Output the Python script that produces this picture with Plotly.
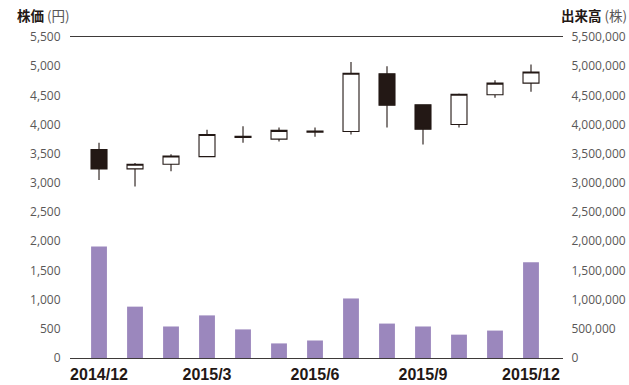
import plotly.graph_objects as go

# Monthly share price (yen) and trading volume (shares)
months = ["2014/12", "2015/1", "2015/2", "2015/3", "2015/4", "2015/5", "2015/6",
          "2015/7", "2015/8", "2015/9", "2015/10", "2015/11", "2015/12"]
price_open = [3570, 3240, 3320, 3450, 3780, 3750, 3870, 3880, 4870, 4340, 4000, 4510, 4710]
price_high = [3690, 3340, 3490, 3910, 3970, 3950, 3950, 5070, 5000, 4340, 4530, 4760, 5030]
price_low = [3050, 2940, 3200, 3440, 3690, 3710, 3790, 3830, 3950, 3660, 3950, 4460, 4560]
price_close = [3240, 3320, 3460, 3830, 3800, 3900, 3890, 4880, 4330, 3920, 4520, 4710, 4900]
volume = [1910000, 880000, 540000, 730000, 490000, 250000, 300000,
          1020000, 590000, 540000, 400000, 470000, 1640000]

x_ticks = ["2014/12", "2015/3", "2015/6", "2015/9", "2015/12"]
price_ticks = list(range(0, 5501, 500))
volume_ticks = list(range(0, 5500001, 500000))

INK = "#231815"
GREY = "#595757"
BAR = "#9b87bd"

W, H = 629, 385
ML, MR, MT, MB = 70, 66, 37, 27
pw, ph = W - ML - MR, H - MT - MB

fig = go.Figure()

fig.add_trace(go.Bar(
    x=months, y=volume, yaxis="y2", width=0.44,
    marker=dict(color=BAR, line=dict(width=0)),
    hoverinfo="skip", showlegend=False,
))

fig.add_trace(go.Candlestick(
    x=months, open=price_open, high=price_high, low=price_low, close=price_close,
    increasing=dict(fillcolor="white", line=dict(color=INK, width=1.1)),
    decreasing=dict(fillcolor=INK, line=dict(color=INK, width=1.1)),
    whiskerwidth=0, showlegend=False,
))

tick_font = dict(family="Open Sans, Liberation Sans, sans-serif", size=12, color=GREY)

fig.update_layout(
    width=W, height=H,
    margin=dict(l=ML, r=MR, t=MT, b=MB, autoexpand=False),
    paper_bgcolor="white", plot_bgcolor="white",
    boxgap=0.556, boxgroupgap=0,
    xaxis=dict(
        type="category", categoryorder="array", categoryarray=months,
        range=[-0.806, 12.889], automargin=False,
        tickvals=x_ticks, ticktext=x_ticks,
        ticks="outside", ticklen=2, tickcolor="rgba(0,0,0,0)",
        tickfont=dict(family="Liberation Sans Narrow, Liberation Sans, sans-serif",
                      size=16, color=INK, weight="bold"),
        showline=True, linecolor="#3e3a39", linewidth=1.2, mirror=True,
        showgrid=False, zeroline=False,
        rangeslider=dict(visible=False), fixedrange=True,
    ),
    yaxis=dict(
        range=[0, 5500], tickvals=price_ticks, tickformat=",", automargin=False,
        ticks="outside", ticklen=6, tickcolor="rgba(0,0,0,0)",
        tickfont=tick_font, showgrid=False, zeroline=False, showline=False,
    ),
    yaxis2=dict(
        range=[0, 5500000], tickvals=volume_ticks, tickformat=",", automargin=False,
        overlaying="y", side="right",
        ticks="outside", ticklen=5, tickcolor="rgba(0,0,0,0)",
        tickfont=tick_font, showgrid=False, zeroline=False, showline=False,
    ),
    annotations=[
        dict(text=f"<b>株価</b><span style='color:{GREY}'> (円)</span>",
             xref="paper", yref="paper", x=(15 - ML) / pw, y=(H - MB - 15.5) / ph,
             xanchor="left", yanchor="middle", showarrow=False,
             font=dict(family="Noto Sans CJK JP", size=13.5, color=INK)),
        dict(text=f"<b>出来高</b><span style='color:{GREY}'> (株)</span>",
             xref="paper", yref="paper", x=(W - ML) / pw, y=(H - MB - 15.5) / ph,
             xanchor="right", yanchor="middle", showarrow=False,
             font=dict(family="Noto Sans CJK JP", size=13.5, color=INK)),
    ],
)

fig.write_html("out.html")
